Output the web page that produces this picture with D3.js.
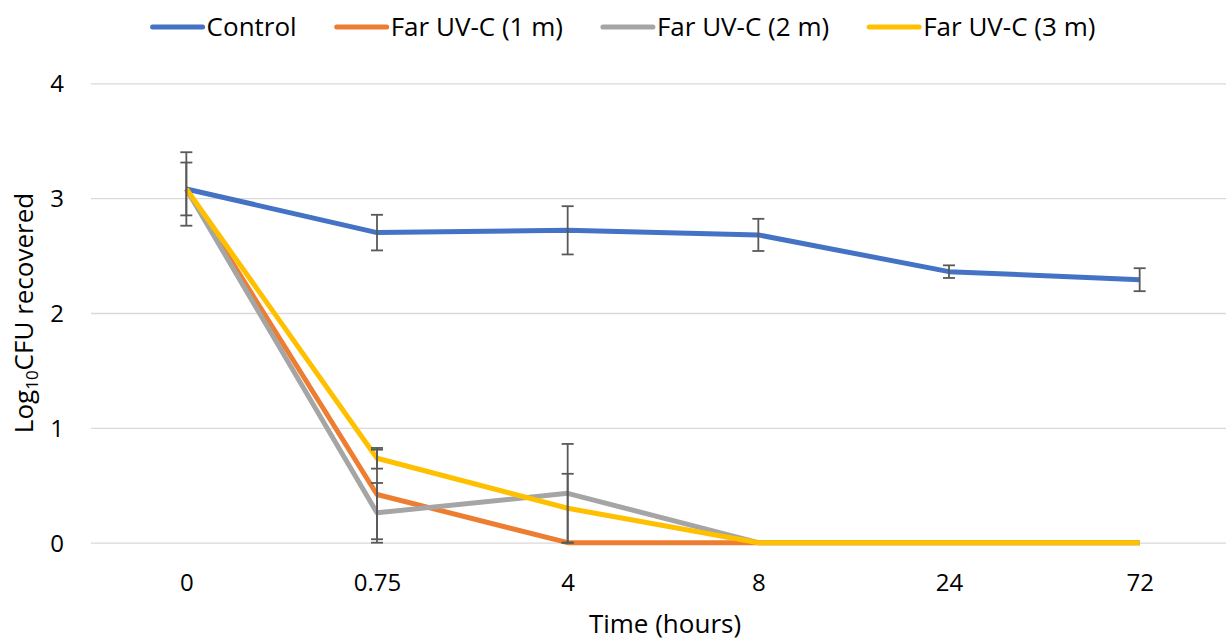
<!DOCTYPE html>
<html>
<head>
<meta charset="utf-8">
<script src="https://cdn.jsdelivr.net/npm/d3@7"></script>
<style>
  html, body { margin: 0; padding: 0; background: #fff; }
  svg { display: block; font-family: "Open Sans", "Noto Sans", sans-serif; }
</style>
</head>
<body>
<svg id="chart" width="1226" height="640"></svg>
<script>
// ---- Data ----
const categories = ["0", "0.75", "4", "8", "24", "72"];
const seriesNames = ["Control", "Far UV-C (1 m)", "Far UV-C (2 m)", "Far UV-C (3 m)"];
const seriesColors = ["#4472C4", "#ED7D31", "#A5A5A5", "#FFC000"];
const controlValues = [3.08, 2.70, 2.72, 2.68, 2.36, 2.29];
const controlErrors = [0.32, 0.155, 0.21, 0.14, 0.055, 0.10];
const far1Values = [3.08, 0.42, 0, 0, 0, 0];
const far1Errors = [0.23, 0.39, 0, 0, 0, 0];
const far2Values = [3.08, 0.26, 0.43, 0, 0, 0];
const far2Errors = [0, 0.26, 0.43, 0, 0, 0];
const far3Values = [3.08, 0.735, 0.30, 0, 0, 0];
const far3Errors = [0, 0.09, 0.30, 0, 0, 0];
const yTicks = [0, 1, 2, 3, 4];
const xTitle = "Time (hours)";

const seriesValues = [controlValues, far1Values, far2Values, far3Values];
const seriesErrors = [controlErrors, far1Errors, far2Errors, far3Errors];

const svg = d3.select("#chart");
const plotLeft = 91, plotRight = 1235, plotTop = 83.3, plotBottom = 542.7;

const x = d3.scalePoint().domain(categories).range([plotLeft, plotRight]).padding(0.5);
const y = d3.scaleLinear().domain([0, 4]).range([plotBottom, plotTop]);

// Gridlines + y tick labels
const yAxis = svg.append("g")
  .attr("transform", `translate(${plotLeft},0)`)
  .call(d3.axisLeft(y).tickValues(yTicks).tickFormat(d3.format("d"))
        .tickSizeInner(-(plotRight - plotLeft)).tickSizeOuter(0).tickPadding(27));
yAxis.select(".domain").remove();
yAxis.selectAll(".tick line").attr("stroke", "#D9D9D9").attr("stroke-width", 1.3);
yAxis.selectAll(".tick text").attr("fill", "#000").attr("font-size", 24)
  .attr("font-family", "Open Sans").attr("dy", "0.36em");

// x tick labels
const xAxis = svg.append("g")
  .attr("transform", `translate(0,${plotBottom})`)
  .call(d3.axisBottom(x).tickSize(0).tickPadding(31));
xAxis.select(".domain").remove();
xAxis.selectAll(".tick text").attr("fill", "#000").attr("font-size", 24)
  .attr("font-family", "Open Sans");

// Lines
const line = d3.line().x((d, i) => x(categories[i])).y(d => y(d)).curve(d3.curveLinear);
svg.append("g").selectAll("path")
  .data(seriesValues)
  .join("path")
  .attr("d", d => line(d))
  .attr("fill", "none")
  .attr("stroke", (d, i) => seriesColors[i])
  .attr("stroke-width", 5)
  .attr("stroke-linejoin", "round")
  .attr("stroke-linecap", "butt");

// Error bars
const errData = [];
seriesValues.forEach((vals, s) => {
  vals.forEach((v, i) => {
    const e = seriesErrors[s][i];
    if (e > 0) errData.push({ c: categories[i], lo: Math.max(0, v - e), hi: v + e });
  });
});
const capW = 6;
const eg = svg.append("g").attr("stroke", "#595959").attr("stroke-width", 1.8);
eg.selectAll("line.v").data(errData).join("line").attr("class", "v")
  .attr("x1", d => x(d.c)).attr("x2", d => x(d.c))
  .attr("y1", d => y(d.lo)).attr("y2", d => y(d.hi));
eg.selectAll("line.t").data(errData).join("line").attr("class", "t")
  .attr("x1", d => x(d.c) - capW).attr("x2", d => x(d.c) + capW)
  .attr("y1", d => y(d.hi)).attr("y2", d => y(d.hi));
eg.selectAll("line.b").data(errData).join("line").attr("class", "b")
  .attr("x1", d => x(d.c) - capW).attr("x2", d => x(d.c) + capW)
  .attr("y1", d => y(d.lo)).attr("y2", d => y(d.lo));

// Axis titles
svg.append("text")
  .attr("x", (plotLeft + plotRight) / 2 + 2).attr("y", 633)
  .attr("text-anchor", "middle").attr("font-size", 26).attr("fill", "#000")
  .text(xTitle);

const yt = svg.append("text")
  .attr("transform", `translate(33,${(plotTop + plotBottom) / 2}) rotate(-90)`)
  .attr("text-anchor", "middle").attr("font-size", 26).attr("fill", "#000");
yt.append("tspan").text("Log");
yt.append("tspan").attr("font-size", 17).attr("dy", 5).text("10");
yt.append("tspan").attr("dy", -5).text("CFU recovered");

// Legend
const legendY = 27, lineLen = 50, textGap = 4, itemGap = 40;
const lg = svg.append("g");
const items = lg.selectAll("g").data(seriesNames).join("g");
items.append("line")
  .attr("x1", 0).attr("x2", lineLen).attr("y1", legendY).attr("y2", legendY)
  .attr("stroke", (d, i) => seriesColors[i]).attr("stroke-width", 5)
  .attr("stroke-linecap", "round");
items.append("text")
  .attr("x", lineLen + textGap).attr("y", legendY).attr("dy", "0.36em")
  .attr("font-size", 26).attr("fill", "#000")
  .text(d => d);
const widths = [];
items.each(function () {
  const w = lineLen + textGap + d3.select(this).select("text").node().getComputedTextLength();
  widths.push(w);
});
const total = d3.sum(widths) + itemGap * (widths.length - 1);
let start = 624 - total / 2;
items.attr("transform", (d, i) => {
  const t = `translate(${start},0)`;
  start += widths[i] + itemGap;
  return t;
});
</script>
</body>
</html>
